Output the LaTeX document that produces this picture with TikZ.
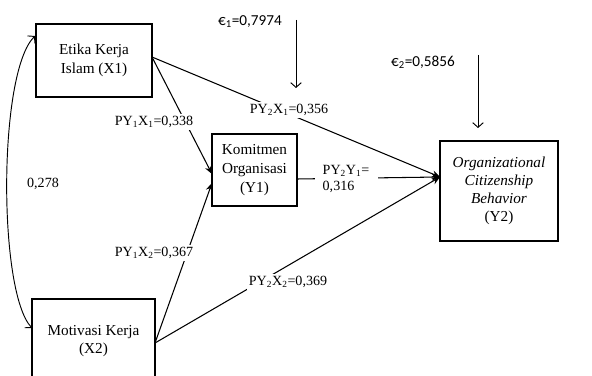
\documentclass[tikz,border=0pt]{standalone}
\usepackage{fontspec}
\setmainfont{Liberation Serif}
\newfontfamily\errfont{Carlito}
\usetikzlibrary{arrows.meta}

\begin{document}
\begin{tikzpicture}[x=0.03cm,y=-0.03cm]
      \tikzstyle{var}=[draw, line width=1.1pt, align=center, inner sep=0pt, font=\fontsize{13}{16}\selectfont]
      \tikzstyle{coef}=[fill=white, inner sep=2pt, font=\fontsize{12}{15}\selectfont]
      \tikzstyle{path}=[line width=0.9pt, -{Stealth[length=7pt,width=6pt]}]
      \tikzstyle{err}=[line width=0.8pt, -{Straight Barb[length=4pt,width=9pt]}]
      \clip (0,0) rectangle (592,376);
      % variables
      \node[var, minimum width=3.48cm, minimum height=2.19cm] (x1) at (94,60.5) {Etika Kerja\\Islam (X1)};
      \node[var, minimum width=3.69cm, minimum height=2.52cm] (x2) at (93.5,341) {Motivasi Kerja\\(X2)};
      \node[var, minimum width=2.55cm, minimum height=2.16cm] (y1) at (254.5,170) {Komitmen\\Organisasi\\(Y1)};
      \node[var, minimum width=3.54cm, minimum height=3.0cm, font=\fontsize{13}{15.5}\selectfont] (y2) at (499,191)
            {\textit{Organizational}\\\textit{Citizenship}\\\textit{Behavior}\\(Y2)};
      % arrow ends
      \coordinate (y1a) at (212,174);
      \coordinate (y1b) at (212,183);
      \coordinate (y1o) at (297,179);
      \coordinate (y2i) at (440,177);
      \coordinate (x1s) at (152,57);
      \coordinate (x2s) at (155,343);
      % paths
      \draw[path] (x1s) -- (y1a);
      \draw[path] (x2s) -- (y1b);
      \draw[path] (x1s) -- (y2i);
      \draw[path] (x2s) -- (y2i);
      \draw[path] (y1o) -- (y2i);
      % correlation
      \coordinate (c1) at (35,36);
      \coordinate (c2) at (32,328);
      \draw[err, {Straight Barb[length=4pt,width=9pt]}-{Straight Barb[length=4pt,width=9pt]}] (c1) .. controls (-2,72) and (-2,292) .. (c2);
      \node[font=\fontsize{12}{15}\selectfont] (r12) at (43,184) {0,278};
      % coefficients
      \node[coef] (p11) at (154,122) {PY\textsubscript{1}X\textsubscript{1}=0,338};
      \node[coef] (p12) at (154,253) {PY\textsubscript{1}X\textsubscript{2}=0,367};
      \node[coef] (p21) at (289,110) {PY\textsubscript{2}X\textsubscript{1}=0,356};
      \node[coef] (p22) at (288,282) {PY\textsubscript{2}X\textsubscript{2}=0,369};
      \node[coef, align=left, inner xsep=7pt, font=\fontsize{12}{14}\selectfont] (p2y) at (346,179) {PY\textsubscript{2}Y\textsubscript{1}=\\0,316};
      % errors
      \node[font=\errfont\fontsize{13}{15}\selectfont] (e1) at (250,22) {€\textsubscript{1}=0,7974};
      \node[font=\errfont\fontsize{13}{15}\selectfont] (e2) at (423,62) {€\textsubscript{2}=0,5856};
      \coordinate (e1a) at (296,20);
      \coordinate (e1b) at (296,88);
      \coordinate (e2a) at (478,55);
      \coordinate (e2b) at (478,128);
      \draw[err] (e1a) -- (e1b);
      \draw[err] (e2a) -- (e2b);
\end{tikzpicture}
\end{document}
